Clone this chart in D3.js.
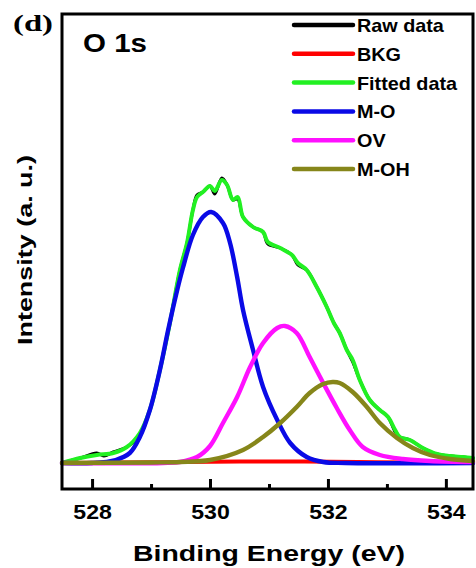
<!DOCTYPE html>
<html>
<head>
<meta charset="utf-8">
<script src="https://cdn.jsdelivr.net/npm/d3@7"></script>
<style>
  body { margin: 0; background: #fff; }
  svg { display: block; }
  text { font-family: "Liberation Sans", Arial, sans-serif; font-weight: bold; fill: #000; }
</style>
</head>
<body>
<svg id="chart"></svg>
<script>
// binding energy (eV) / intensity (a.u.)
const rawE = [527.49, 527.8, 528.08, 528.2, 528.36, 528.59, 528.81, 528.98, 529.15, 529.32, 529.49, 529.61, 529.71, 529.78, 529.88, 530.0, 530.08, 530.2, 530.29, 530.39, 530.47, 530.56, 530.73, 530.9, 530.98, 531.19, 531.39, 531.49, 531.64, 531.81, 531.98, 532.1, 532.2, 532.32, 532.42, 532.54, 532.71, 532.88, 533.02, 533.14, 533.22, 533.39, 533.61, 533.85, 534.07, 534.29, 534.46];
const rawI = [0.00, 0.05, 0.10, 0.07, 0.11, 0.16, 0.27, 0.53, 0.93, 1.40, 1.93, 2.20, 2.53, 2.68, 2.71, 2.77, 2.69, 2.85, 2.78, 2.63, 2.64, 2.46, 2.36, 2.31, 2.19, 2.15, 2.08, 1.98, 1.93, 1.76, 1.56, 1.40, 1.30, 1.13, 1.01, 0.83, 0.63, 0.53, 0.46, 0.31, 0.26, 0.23, 0.15, 0.09, 0.07, 0.06, 0.05];

const fitE = [527.49, 527.8, 528.08, 528.36, 528.59, 528.81, 528.98, 529.15, 529.32, 529.49, 529.61, 529.71, 529.78, 529.88, 530.0, 530.08, 530.2, 530.29, 530.39, 530.47, 530.56, 530.73, 530.9, 530.98, 531.19, 531.39, 531.49, 531.64, 531.81, 531.98, 532.1, 532.2, 532.32, 532.42, 532.54, 532.71, 532.88, 533.02, 533.14, 533.22, 533.39, 533.61, 533.85, 534.07, 534.29, 534.46];
const fitI = [0.00, 0.05, 0.08, 0.10, 0.16, 0.30, 0.53, 0.93, 1.40, 1.93, 2.20, 2.53, 2.66, 2.71, 2.77, 2.72, 2.83, 2.78, 2.63, 2.66, 2.46, 2.36, 2.31, 2.21, 2.15, 2.08, 2.00, 1.93, 1.76, 1.56, 1.40, 1.30, 1.13, 1.03, 0.83, 0.63, 0.53, 0.46, 0.33, 0.26, 0.23, 0.15, 0.09, 0.07, 0.06, 0.05];

const bkgE = [527.49, 528.5, 529.5, 530.5, 531.5, 532.5, 533.5, 534.46];
const bkgI = [0.00, 0.005, 0.01, 0.015, 0.015, 0.01, 0.005, 0.005];

const moE = [527.49, 528.0, 528.4, 528.64, 528.81, 528.98, 529.15, 529.29, 529.44, 529.54, 529.71, 529.88, 530.02, 530.22, 530.34, 530.46, 530.56, 530.73, 530.9, 531.14, 531.36, 531.64, 531.92, 532.3, 534.46];
const moI = [0.00, 0.00, 0.03, 0.10, 0.26, 0.53, 0.93, 1.33, 1.72, 1.95, 2.28, 2.46, 2.51, 2.40, 2.20, 1.86, 1.53, 1.13, 0.76, 0.43, 0.20, 0.06, 0.01, 0.00, 0.00];

const ovE = [527.49, 529.2, 529.49, 529.78, 530.0, 530.22, 530.46, 530.68, 530.9, 531.14, 531.27, 531.47, 531.69, 531.92, 532.15, 532.37, 532.59, 532.88, 533.27, 533.73, 534.46];
const ovI = [0.00, 0.00, 0.01, 0.06, 0.17, 0.40, 0.66, 0.96, 1.20, 1.35, 1.37, 1.30, 1.06, 0.80, 0.55, 0.33, 0.16, 0.08, 0.04, 0.02, 0.01];

const mohE = [527.49, 529.0, 529.5, 530.0, 530.56, 530.9, 531.19, 531.47, 531.69, 531.92, 532.08, 532.2, 532.42, 532.66, 532.88, 533.17, 533.44, 533.73, 534.07, 534.46];
const mohI = [0.00, 0.005, 0.01, 0.03, 0.13, 0.26, 0.40, 0.56, 0.70, 0.79, 0.81, 0.80, 0.71, 0.56, 0.40, 0.25, 0.15, 0.08, 0.04, 0.02];

const names = ["Raw data", "BKG", "Fitted data", "M-O", "OV", "M-OH"];
const xTicks = [528, 530, 532, 534];
const xMinor = [529, 531, 533];

const colors = {"Raw data": "#000000", "BKG": "#ff0000", "Fitted data": "#22f022", "M-O": "#0a0ae6", "OV": "#ff10ff", "M-OH": "#86861a"};

const W = 476, H = 568;
const margin = {top: 14, right: 3, bottom: 79, left: 62};
const iw = W - margin.left - margin.right;
const ih = H - margin.top - margin.bottom;

const svg = d3.select("#chart").attr("width", W).attr("height", H);
const g = svg.append("g").attr("transform", `translate(${margin.left},${margin.top})`);

const x = d3.scaleLinear().domain([527.49, 534.46]).range([0, iw]);
const y = d3.scaleLinear().domain([-0.26, 4.49]).range([ih, 0]);

const zip = (e, v) => e.map((d, i) => [d, v[i]]);
const line = d3.line().x(d => x(d[0])).y(d => y(d[1])).curve(d3.curveCatmullRom.alpha(0.5));

const series = [
    ["Raw data", zip(rawE, rawI), 3],
    ["Fitted data", zip(fitE, fitI), 4],
    ["BKG", zip(bkgE, bkgI), 4],
    ["M-O", zip(moE, moI), 4.4],
    ["OV", zip(ovE, ovI), 4.4],
    ["M-OH", zip(mohE, mohI), 4.4]
];

const plot = g.append("g");
series.forEach(([name, pts, w]) => {
    plot.append("path")
        .datum(pts)
        .attr("fill", "none")
        .attr("stroke", colors[name])
        .attr("stroke-width", w)
        .attr("stroke-linejoin", "round")
        .attr("stroke-linecap", "round")
        .attr("d", line);
});

// bottom axis, ticks pointing inward
const xAxis = g.append("g")
    .attr("transform", `translate(0,${ih})`)
    .call(d3.axisBottom(x).tickValues(xTicks).tickSizeInner(-10).tickSizeOuter(0).tickPadding(15).tickFormat(d3.format("d")));
xAxis.select(".domain").remove();
xAxis.selectAll("line").attr("stroke", "#000").attr("stroke-width", 3);
xAxis.selectAll("text")
    .attr("font-size", 21)
    .attr("transform", "scale(1.1,1)");

const xMinorAxis = g.append("g")
    .attr("transform", `translate(0,${ih})`)
    .call(d3.axisBottom(x).tickValues(xMinor).tickSizeInner(-5).tickSizeOuter(0).tickFormat(""));
xMinorAxis.select(".domain").remove();
xMinorAxis.selectAll("line").attr("stroke", "#000").attr("stroke-width", 3);

// frame
g.append("rect")
    .attr("width", iw).attr("height", ih)
    .attr("fill", "none").attr("stroke", "#000").attr("stroke-width", 3);

// legend
const legend = svg.append("g").attr("transform", "translate(294,25)");
names.forEach((n, i) => {
    const row = legend.append("g").attr("transform", `translate(0,${i * 28.8})`);
    row.append("line").attr("x1", 0).attr("x2", 59)
        .attr("stroke", colors[n]).attr("stroke-width", 4.5).attr("stroke-linecap", "round");
    row.append("text").attr("x", 63).attr("y", 7).attr("font-size", 18)
        .attr("transform", "translate(63,0) scale(1.1,1) translate(-63,0)")
        .text(n);
});

// labels
svg.append("text").attr("x", 83).attr("y", 52).attr("font-size", 25)
    .attr("textLength", 64).attr("lengthAdjust", "spacingAndGlyphs").text("O 1s");

svg.append("text").attr("x", 13).attr("y", 31).attr("font-size", 23)
    .style("font-family", "'Liberation Serif', 'Times New Roman', serif")
    .attr("textLength", 40).attr("lengthAdjust", "spacingAndGlyphs").text("(d)");

svg.append("text").attr("x", 269).attr("y", 561).attr("font-size", 22.5)
    .attr("text-anchor", "middle")
    .attr("textLength", 272).attr("lengthAdjust", "spacingAndGlyphs")
    .text("Binding Energy (eV)");

svg.append("text").attr("transform", "translate(32,250) rotate(-90)")
    .attr("font-size", 21).attr("text-anchor", "middle")
    .attr("textLength", 190).attr("lengthAdjust", "spacingAndGlyphs")
    .text("Intensity (a. u.)");
</script>
</body>
</html>
